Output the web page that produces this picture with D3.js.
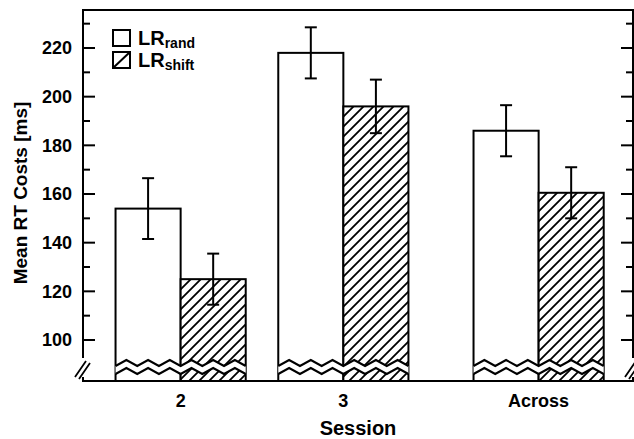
<!DOCTYPE html>
<html>
<head>
<meta charset="utf-8">
<script src="https://cdn.jsdelivr.net/npm/d3@7"></script>
<style>
  html, body { margin: 0; padding: 0; background: #fff; }
  svg { display: block; font-family: "Liberation Sans", Arial, Helvetica, sans-serif; font-weight: bold; }
</style>
</head>
<body>
<div id="viz"></div>
<script>
// data
const sessions = ["2", "3", "Across"];
const sessionX = [2, 3, 4.2];
const randMean = [154, 218, 186];
const randErr = [12.5, 10.5, 10.5];
const shiftMean = [125, 196, 160.5];
const shiftErr = [10.5, 11, 10.5];
const yTicks = [100, 120, 140, 160, 180, 200, 220];

const W = 634, H = 439;
const plotL = 83, plotR = 633, plotT = 10, plotB = 381;
const barW = 0.4;

const svg = d3.select("#viz").append("svg").attr("width", W).attr("height", H);

const x = d3.scaleLinear().domain([1.4, 4.78]).range([plotL, plotR]);
const y = d3.scaleLinear().domain([100, 220]).range([340, 48]);

const defs = svg.append("defs");
const pat = defs.append("pattern")
  .attr("id", "hatch")
  .attr("patternUnits", "userSpaceOnUse")
  .attr("width", 10).attr("height", 10);
pat.append("rect").attr("width", 10).attr("height", 10).attr("fill", "#fff");
pat.append("path")
  .attr("d", "M-2,2 L2,-2 M0,10 L10,0 M8,12 L12,8")
  .attr("stroke", "#000").attr("stroke-width", 1.8);

const rows = sessions.map((s, i) => ({
  s, x: sessionX[i],
  bars: [
    { kind: "rand", x0: sessionX[i] - barW, x1: sessionX[i], m: randMean[i], e: randErr[i] },
    { kind: "shift", x0: sessionX[i], x1: sessionX[i] + barW, m: shiftMean[i], e: shiftErr[i] }
  ]
}));

const g = svg.append("g");

// bars
rows.forEach(r => {
  r.bars.forEach(b => {
    g.append("rect")
      .attr("x", x(b.x0)).attr("y", y(b.m))
      .attr("width", x(b.x1) - x(b.x0)).attr("height", plotB - y(b.m))
      .attr("fill", b.kind === "rand" ? "#fff" : "url(#hatch)")
      .attr("stroke", "#000").attr("stroke-width", 2);
  });
});

// broken-bar zigzag band
function zig(x0, x1, yc, amp, n) {
  const pts = [];
  const step = (x1 - x0) / (n * 2);
  for (let k = 0; k <= n * 2; k++) {
    pts.push([x0 + k * step, yc + (k % 2 === 0 ? amp : -amp)]);
  }
  return pts;
}
rows.forEach(r => {
  const x0 = x(r.x - barW), x1 = x(r.x + barW);
  const up = zig(x0, x1, 363, 3, 6);
  const lo = zig(x0, x1, 371, 3, 6);
  const band = up.concat(lo.slice().reverse());
  g.append("path")
    .attr("d", d3.line()(band) + "Z")
    .attr("fill", "#fff").attr("stroke", "none");
  [up, lo].forEach(p => {
    g.append("path").attr("d", d3.line()(p))
      .attr("fill", "none").attr("stroke", "#000").attr("stroke-width", 2);
  });
});

// error bars
rows.forEach(r => {
  r.bars.forEach(b => {
    const cx = x((b.x0 + b.x1) / 2);
    g.append("line").attr("x1", cx).attr("x2", cx)
      .attr("y1", y(b.m + b.e)).attr("y2", y(b.m - b.e))
      .attr("stroke", "#000").attr("stroke-width", 2);
    [b.m + b.e, b.m - b.e].forEach(v => {
      g.append("line").attr("x1", cx - 6).attr("x2", cx + 6)
        .attr("y1", y(v)).attr("y2", y(v))
        .attr("stroke", "#000").attr("stroke-width", 2);
    });
  });
});

// frame
const ax = svg.append("g").attr("stroke", "#000").attr("stroke-width", 2).attr("fill", "none");
ax.append("path").attr("d", `M${plotL},358 V${plotT} H${plotR} V358`);
ax.append("path").attr("d", `M${plotL},377 V${plotB} M${plotR},377 V${plotB} M${plotL - 1},${plotB} H${W}`);
[plotL, plotR].forEach(px => {
  ax.append("path").attr("d", `M${px - 8},377 L${px + 3},361 M${px - 4},379 L${px + 7},363`)
    .attr("stroke-width", 1.8);
});

// ticks
const minor = d3.range(100, 231, 10);
minor.forEach(v => {
  const major = v % 20 === 0 && v <= 220;
  const len = major ? 12 : 7;
  ax.append("line").attr("x1", plotL).attr("x2", plotL + len).attr("y1", y(v)).attr("y2", y(v));
  ax.append("line").attr("x1", plotR).attr("x2", plotR - len).attr("y1", y(v)).attr("y2", y(v));
});

svg.append("g").selectAll("text").data(yTicks).join("text")
  .attr("x", 72).attr("y", d => y(d)).attr("dy", "0.36em")
  .attr("text-anchor", "end").attr("font-size", 18)
  .text(d => d);

svg.append("g").selectAll("text").data(rows).join("text")
  .attr("x", d => x(d.x)).attr("y", 407)
  .attr("text-anchor", "middle").attr("font-size", 18)
  .text(d => d.s);

svg.append("text").attr("x", (plotL + plotR) / 2).attr("y", 435)
  .attr("text-anchor", "middle").attr("font-size", 20).text("Session");

svg.append("text").attr("transform", "translate(27,193) rotate(-90)")
  .attr("text-anchor", "middle").attr("font-size", 19).text("Mean RT Costs [ms]");

// legend
const lg = svg.append("g");
[["rand", 30], ["shift", 52]].forEach(([sub, ly]) => {
  lg.append("rect").attr("x", 113).attr("y", ly).attr("width", 17).attr("height", 16)
    .attr("fill", "#fff").attr("stroke", "#000").attr("stroke-width", 2);
  if (sub === "shift") {
    lg.append("line").attr("x1", 113).attr("y1", ly + 16).attr("x2", 130).attr("y2", ly)
      .attr("stroke", "#000").attr("stroke-width", 2);
  }
  const t = lg.append("text").attr("x", 138).attr("y", ly + 15).attr("font-size", 20);
  t.append("tspan").text("LR");
  t.append("tspan").attr("dy", 3).attr("font-size", 14).text(sub);
});
</script>
</body>
</html>
